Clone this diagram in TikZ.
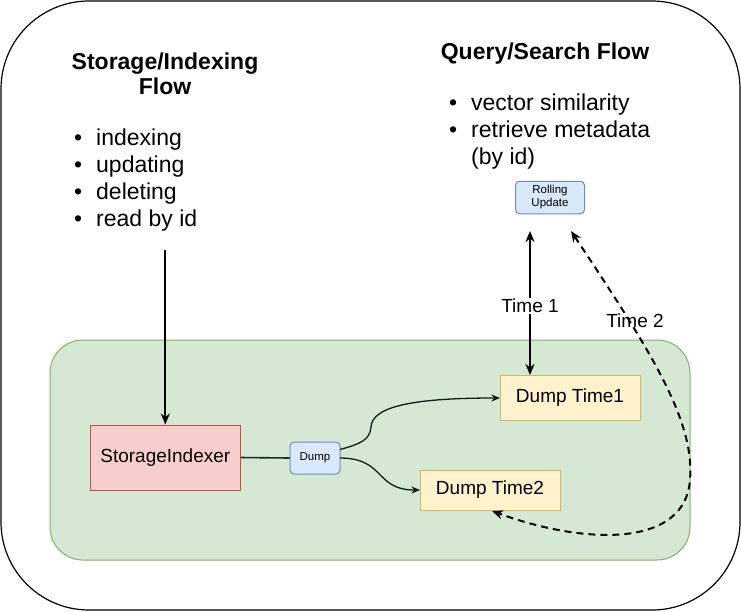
\documentclass[tikz,border=0pt]{standalone}
\usepackage{fontspec}
\setmainfont{Liberation Sans}
\usetikzlibrary{arrows.meta}
\definecolor{gfill}{HTML}{D5E8D4}
\definecolor{gdraw}{HTML}{82B366}
\definecolor{rfill}{HTML}{F8CECC}
\definecolor{rdraw}{HTML}{B85450}
\definecolor{bfill}{HTML}{DAE8FC}
\definecolor{bdraw}{HTML}{6C8EBF}
\definecolor{yfill}{HTML}{FFF2CC}
\definecolor{ydraw}{HTML}{D6B656}
\tikzset{
  lbl/.style={font=\fontsize{23}{27}\selectfont, inner sep=0pt, anchor=base west},
  ttl/.style={font=\bfseries\fontsize{23}{25}\selectfont, inner sep=0pt, anchor=base},
  boxy/.style={draw, line width=1pt, font=\fontsize{19}{22}\selectfont, inner sep=0pt},
  smallbox/.style={draw=bdraw, fill=bfill, line width=1pt, rounded corners=4pt, inner sep=0pt, align=center, font=\fontsize{11.5}{13}\selectfont},
  bigarrow/.style={line width=2pt, -{Stealth[length=11pt,width=9pt,inset=3.5pt]}},
  thinarrow/.style={line width=1.3pt, -{Stealth[length=8.5pt,width=7pt,inset=2.5pt]}},
  edgelbl/.style={font=\fontsize{19}{22}\selectfont, inner sep=1pt}
}
\begin{document}
\begin{tikzpicture}[x=1pt,y=-1pt]
\useasboundingbox (0,0) rectangle (741,611);
\draw[line width=1.2pt, rounded corners=88pt] (1,1) rectangle (740,610);
\draw[fill=gfill, draw=gdraw, line width=1pt, rounded corners=33pt] (50,340) rectangle (690,560);

% titles
\node[ttl] (tl1) at (165,69) {Storage/Indexing};
\node[ttl] (tl2) at (165,94) {Flow};
\node[ttl] (tr1) at (545,59) {Query/Search Flow};

% left list
\node[lbl] (lb1) at (74,145) {•};
\node[lbl] (lb2) at (74,172) {•};
\node[lbl] (lb3) at (74,199) {•};
\node[lbl] (lb4) at (74,226) {•};
\node[lbl] (lt1) at (96,145) {indexing};
\node[lbl] (lt2) at (96,172) {updating};
\node[lbl] (lt3) at (96,199) {deleting};
\node[lbl] (lt4) at (96,226) {read by id};

% right list
\node[lbl] (rb1) at (449,110) {•};
\node[lbl] (rb2) at (449,137) {•};
\node[lbl] (rt1) at (471,110) {vector similarity};
\node[lbl] (rt2) at (471,137) {retrieve metadata};
\node[lbl] (rt3) at (471,164) {(by id)};

% boxes
\node[boxy, fill=rfill, draw=rdraw, minimum width=150pt, minimum height=65pt] (si) at (165.3,457.5) {StorageIndexer};
\node[smallbox, minimum width=50pt, minimum height=32pt] (dump) at (315,458) {Dump};
\node[boxy, fill=yfill, draw=ydraw, minimum width=140pt, minimum height=45pt] (dt1) at (570,397.5) {Dump Time1};
\node[boxy, fill=yfill, draw=ydraw, minimum width=140pt, minimum height=40pt] (dt2) at (490,490) {Dump Time2};
\node[smallbox, minimum width=69pt, minimum height=32.5pt] (ru) at (550,197.5) {Rolling\\Update};

% connectors
\coordinate (a0) at (165.3,250);
\draw[bigarrow] (a0) -- (si.north);

\draw[line width=1.6pt, black!85] (si.east) -- (dump.west);

\coordinate (d1s) at (340,449.5);
\coordinate (d2s) at (340,458);
\coordinate (d1e) at (500,398);
\coordinate (d2e) at (420,490);
\draw[thinarrow, black!90] (d1s) .. controls (360,444) and (370,440) .. (371,427) .. controls (372,405) and (420,398) .. (d1e);
\draw[thinarrow, black!90] (d2s) .. controls (385,458) and (375,490) .. (d2e);

\coordinate (t1top) at (530,231);
\coordinate (t1bot) at (530,375);
\draw[line width=2pt, {Stealth[length=11pt,width=9pt,inset=3.5pt]}-{Stealth[length=11pt,width=9pt,inset=3.5pt]}] (t1top) -- (t1bot);
\node[edgelbl, fill=white] (t1lbl) at (530,306) {Time 1};

\coordinate (t2top) at (571,231);
\coordinate (t2bot) at (492,511);
\draw[line width=2pt, dash pattern=on 7pt off 5pt, {Stealth[length=11pt,width=9pt,inset=3.5pt]}-{Stealth[length=11pt,width=9pt,inset=3.5pt]}] (t2top) .. controls (650,350) and (695,420) .. (690,480) .. controls (685,548) and (585,545) .. (t2bot);
\node[edgelbl] (t2lbl) at (635,321) {Time 2};
\end{tikzpicture}
\end{document}
